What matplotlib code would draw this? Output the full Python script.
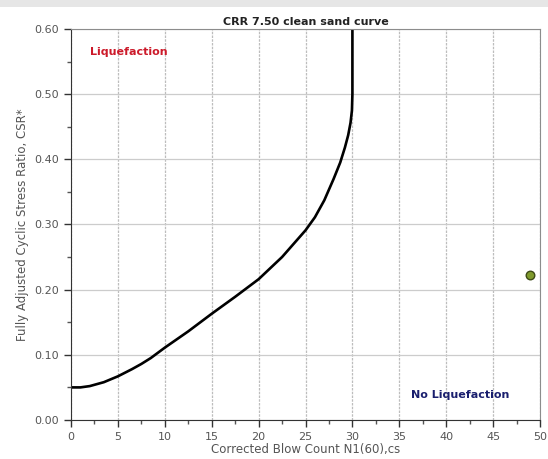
import matplotlib
matplotlib.use('Agg')
import matplotlib.pyplot as plt
from matplotlib.patches import Rectangle
from matplotlib.ticker import MultipleLocator

# CRR 7.5 clean sand curve
blow_count = [0, 1, 2, 3.5, 5, 6.5, 7.5, 8.5, 10, 12.5, 15, 17.5, 20, 22.5,
              25, 26, 27, 28, 28.7, 29.2, 29.55, 29.8, 29.95, 30, 30]
crr_curve = [0.050, 0.050, 0.052, 0.058, 0.067, 0.078, 0.086, 0.095, 0.111,
             0.136, 0.163, 0.189, 0.216, 0.250, 0.291, 0.311, 0.337, 0.370,
             0.395, 0.418, 0.437, 0.456, 0.475, 0.50, 0.60]

# single test point
point_n = [48.9]
point_csr = [0.222]

fig = plt.figure(figsize=(5.48, 4.59), dpi=100)
fig.patches.append(Rectangle((0, 0.985), 1, 0.015, transform=fig.transFigure,
                             facecolor='#e6e6e6', edgecolor='none'))
ax = fig.add_axes([0.1296, 0.085, 0.8558, 0.852])

ax.plot(blow_count, crr_curve, color='black', lw=1.9, solid_capstyle='butt',
        solid_joinstyle='round')
ax.scatter(point_n, point_csr, s=38, color='#7f9a2c', edgecolors='#3e4a18',
           linewidths=1.0, zorder=5)

ax.set_xlim(0, 50)
ax.set_ylim(0, 0.60)
ax.xaxis.set_major_locator(MultipleLocator(5))
ax.xaxis.set_minor_locator(MultipleLocator(2.5))
ax.yaxis.set_major_locator(MultipleLocator(0.1))
ax.yaxis.set_minor_locator(MultipleLocator(0.05))
ax.yaxis.set_major_formatter(plt.FormatStrFormatter('%.2f'))
ax.tick_params(which='major', length=5, width=1, color='#333333',
               labelsize=8, labelcolor='#555555')
ax.tick_params(which='minor', length=3, width=1, color='#555555')

ax.grid(True, axis='x', which='major', color='#bdbdbd', lw=0.9, ls=(0, (2, 1)))
ax.grid(True, axis='y', which='major', color='#cccccc', lw=0.9, ls='-')
for s in ['top', 'right']:
    ax.spines[s].set_color('#8c8c8c')
for s in ['left', 'bottom']:
    ax.spines[s].set_color('#333333')

ax.set_title('CRR 7.50 clean sand curve', fontsize=8, fontweight='bold',
             color='#222222', pad=3)
ax.set_xlabel('Corrected Blow Count N1(60),cs', fontsize=8.5,
              color='#555555', labelpad=1)
ax.set_ylabel('Fully Adjusted Cyclic Stress Ratio, CSR*', fontsize=8.5,
              color='#555555', labelpad=4)

ax.text(2.0, 0.565, 'Liquefaction', color='#cc1a2a', fontsize=8,
        fontweight='bold', va='center')
ax.text(36.2, 0.038, 'No Liquefaction', color='#1a1f6e', fontsize=8,
        fontweight='bold', va='center')

fig.savefig('out.png', dpi=100)
